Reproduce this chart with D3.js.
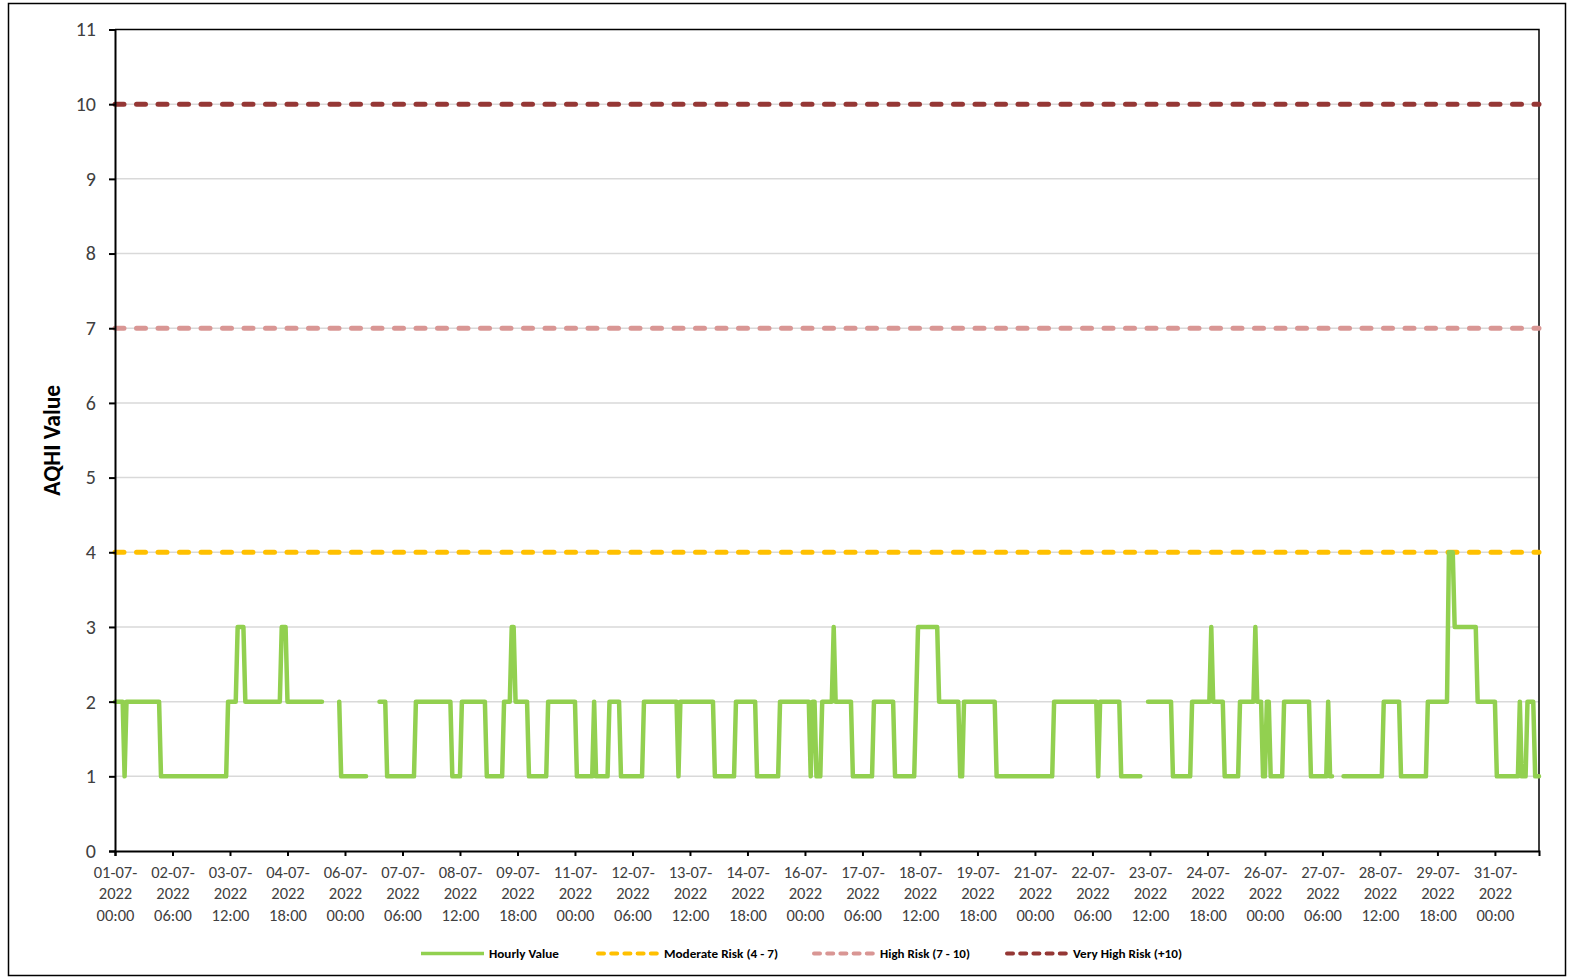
<!DOCTYPE html>
<html>
<head>
<meta charset="utf-8">
<script src="https://cdn.jsdelivr.net/npm/d3@7"></script>
<style>
  body { margin: 0; background: #fff; }
  svg { display: block; font-family: Carlito, Lato, "Open Sans", sans-serif; }
</style>
</head>
<body>
<svg id="chart" width="1574" height="979"></svg>
<script>
// hourly AQHI, July 2022, stored as runs of [value, hours]; null = no reading
const hourlyRuns = [
  [2,5],[1,1],[2,18],[1,35],[2,5],[3,4],[2,19],[3,3],[2,19],[null,8],
  [2,1],[1,14],[null,6],[2,4],[1,15],[2,19],[1,5],[2,13],[1,9],[2,4],
  [3,2],[2,7],[1,10],[2,15],[1,9],[2,1],[1,7],[2,6],[1,12],[2,18],
  [1,1],[2,18],[1,11],[2,11],[1,12],[2,16],[1,1],[2,2],[1,3],[2,6],
  [3,1],[2,9],[1,11],[2,11],[1,11],[2,1],[3,11],[2,11],[1,2],[2,17],
  [1,30],[2,23],[1,1],[2,11],[1,11],[null,3],[2,13],[1,10],[2,10],[3,1],
  [2,6],[1,8],[2,8],[3,1],[2,3],[1,2],[2,2],[1,7],[2,14],[1,9],
  [2,1],[1,2],[null,5],[1,21],[2,9],[1,14],[2,11],[4,3],[3,12],[2,10],
  [1,12],[2,1],[1,3],[2,4],[1,3]
];
const seriesName = "Hourly Value";
const thresholdValues = [4, 7, 10];
const thresholdNames = ["Moderate Risk (4 - 7)", "High Risk (7 - 10)", "Very High Risk (+10)"];
const yTicks = d3.range(0, 12);
const tickEveryHours = 30;
const startTime = Date.UTC(2022, 6, 1, 0, 0);

const colors = { hourly: "#92D050", thresholds: ["#FFC000", "#D99694", "#953735"] };

// expand runs into one point per hour
const hourly = [];
hourlyRuns.forEach(([v, n]) => { for (let i = 0; i < n; i++) hourly.push(v); });
const points = hourly.map((v, i) => ({ t: new Date(startTime + i * 3600e3), v }));

const svg = d3.select("#chart");
const margin = { left: 115, top: 29.5, right: 1539, bottom: 851 };

// outer frame
svg.append("rect")
  .attr("x", 8.5).attr("y", 3.5).attr("width", 1557).attr("height", 972)
  .attr("fill", "#fff").attr("stroke", "#000").attr("stroke-width", 1.5);

const x = d3.scaleUtc()
  .domain([points[0].t, points[points.length - 1].t])
  .range([margin.left, margin.right]);
const y = d3.scaleLinear().domain([0, 11]).range([margin.bottom, margin.top]);

// gridlines
svg.append("g")
  .selectAll("line")
  .data(yTicks.filter(d => d > 0 && d < 11))
  .join("line")
  .attr("x1", margin.left).attr("x2", margin.right)
  .attr("y1", d => y(d)).attr("y2", d => y(d))
  .attr("stroke", "#d9d9d9").attr("stroke-width", 1.5);

// plot box (top / right)
svg.append("path")
  .attr("d", `M${margin.left},${margin.top}H${margin.right}V${margin.bottom}`)
  .attr("fill", "none").attr("stroke", "#000").attr("stroke-width", 1.5);

// threshold lines
svg.append("g")
  .selectAll("line")
  .data(thresholdValues)
  .join("line")
  .attr("x1", margin.left).attr("x2", margin.right)
  .attr("y1", d => y(d)).attr("y2", d => y(d))
  .attr("stroke", (d, i) => colors.thresholds[i])
  .attr("stroke-width", 5)
  .attr("stroke-dasharray", "9,12.5")
  .attr("stroke-linecap", "round");

// hourly series
const line = d3.line()
  .defined(d => d.v != null)
  .x(d => x(d.t))
  .y(d => y(d.v));

svg.append("path")
  .datum(points)
  .attr("d", line)
  .attr("fill", "none")
  .attr("stroke", colors.hourly)
  .attr("stroke-width", 4.5)
  .attr("stroke-linejoin", "round")
  .attr("stroke-linecap", "round");

// y axis
const yAxis = svg.append("g")
  .attr("transform", `translate(${margin.left},0)`)
  .call(d3.axisLeft(y).tickValues(yTicks).tickSize(6).tickPadding(13).tickFormat(d3.format("d")));
yAxis.attr("font-size", 20).attr("font-family", "Carlito, Lato, sans-serif");
yAxis.select(".domain").attr("stroke", "#000").attr("stroke-width", 2);
yAxis.selectAll(".tick line").attr("stroke", "#000").attr("stroke-width", 2);
yAxis.selectAll(".tick text")
  .style("font-size", "20px").attr("fill", "#404040");

// x axis
const xTickVals = d3.range(0, 721, tickEveryHours).map(h => new Date(startTime + h * 3600e3));
const fDay = d3.utcFormat("%d-%m-"), fYear = d3.utcFormat("%Y"), fTime = d3.utcFormat("%H:%M");
const xAxis = svg.append("g")
  .attr("transform", `translate(0,${margin.bottom})`)
  .call(d3.axisBottom(x).tickValues(xTickVals).tickSize(5).tickFormat(""));
xAxis.attr("font-family", "Carlito, Lato, sans-serif");
xAxis.select(".domain").attr("stroke", "#000").attr("stroke-width", 2);
xAxis.selectAll(".tick line").attr("stroke", "#000").attr("stroke-width", 2);
xAxis.selectAll(".tick").each(function(d) {
  const t = d3.select(this).append("text")
    .attr("fill", "#404040").attr("font-size", 16.5)
    .attr("text-anchor", "middle");
  [fDay(d), fYear(d), fTime(d)].forEach((s, i) => {
    t.append("tspan").attr("x", 0).attr("y", 27 + i * 21.3).text(s);
  });
});

// y axis title
svg.append("text")
  .attr("transform", `translate(60,${(margin.top + margin.bottom) / 2}) rotate(-90)`)
  .attr("text-anchor", "middle")
  .attr("font-weight", "bold").attr("font-size", 23.5).attr("fill", "#000")
  .text("AQHI Value");

// legend
const legendItems = [seriesName, ...thresholdNames];
const legendX = [421, 596, 812, 1005];
const legendW = [70, 114, 90, 109];
const legendY = 953.5;
const lg = svg.append("g");
legendItems.forEach((name, i) => {
  const g = lg.append("g").attr("transform", `translate(${legendX[i]},${legendY})`);
  const l = g.append("line").attr("x1", i === 0 ? 0 : 2).attr("x2", i === 0 ? 63 : 61)
    .attr("stroke", i === 0 ? colors.hourly : colors.thresholds[i - 1])
    .attr("stroke-width", i === 0 ? 3.5 : 4);
  if (i > 0) l.attr("stroke-dasharray", "6,7.2").attr("stroke-linecap", "round");
  g.append("text")
    .attr("x", 68).attr("dy", "0.35em")
    .attr("font-size", 12).attr("font-weight", "bold").attr("fill", "#000")
    .attr("textLength", legendW[i]).attr("lengthAdjust", "spacingAndGlyphs")
    .text(name);
});
</script>
</body>
</html>
